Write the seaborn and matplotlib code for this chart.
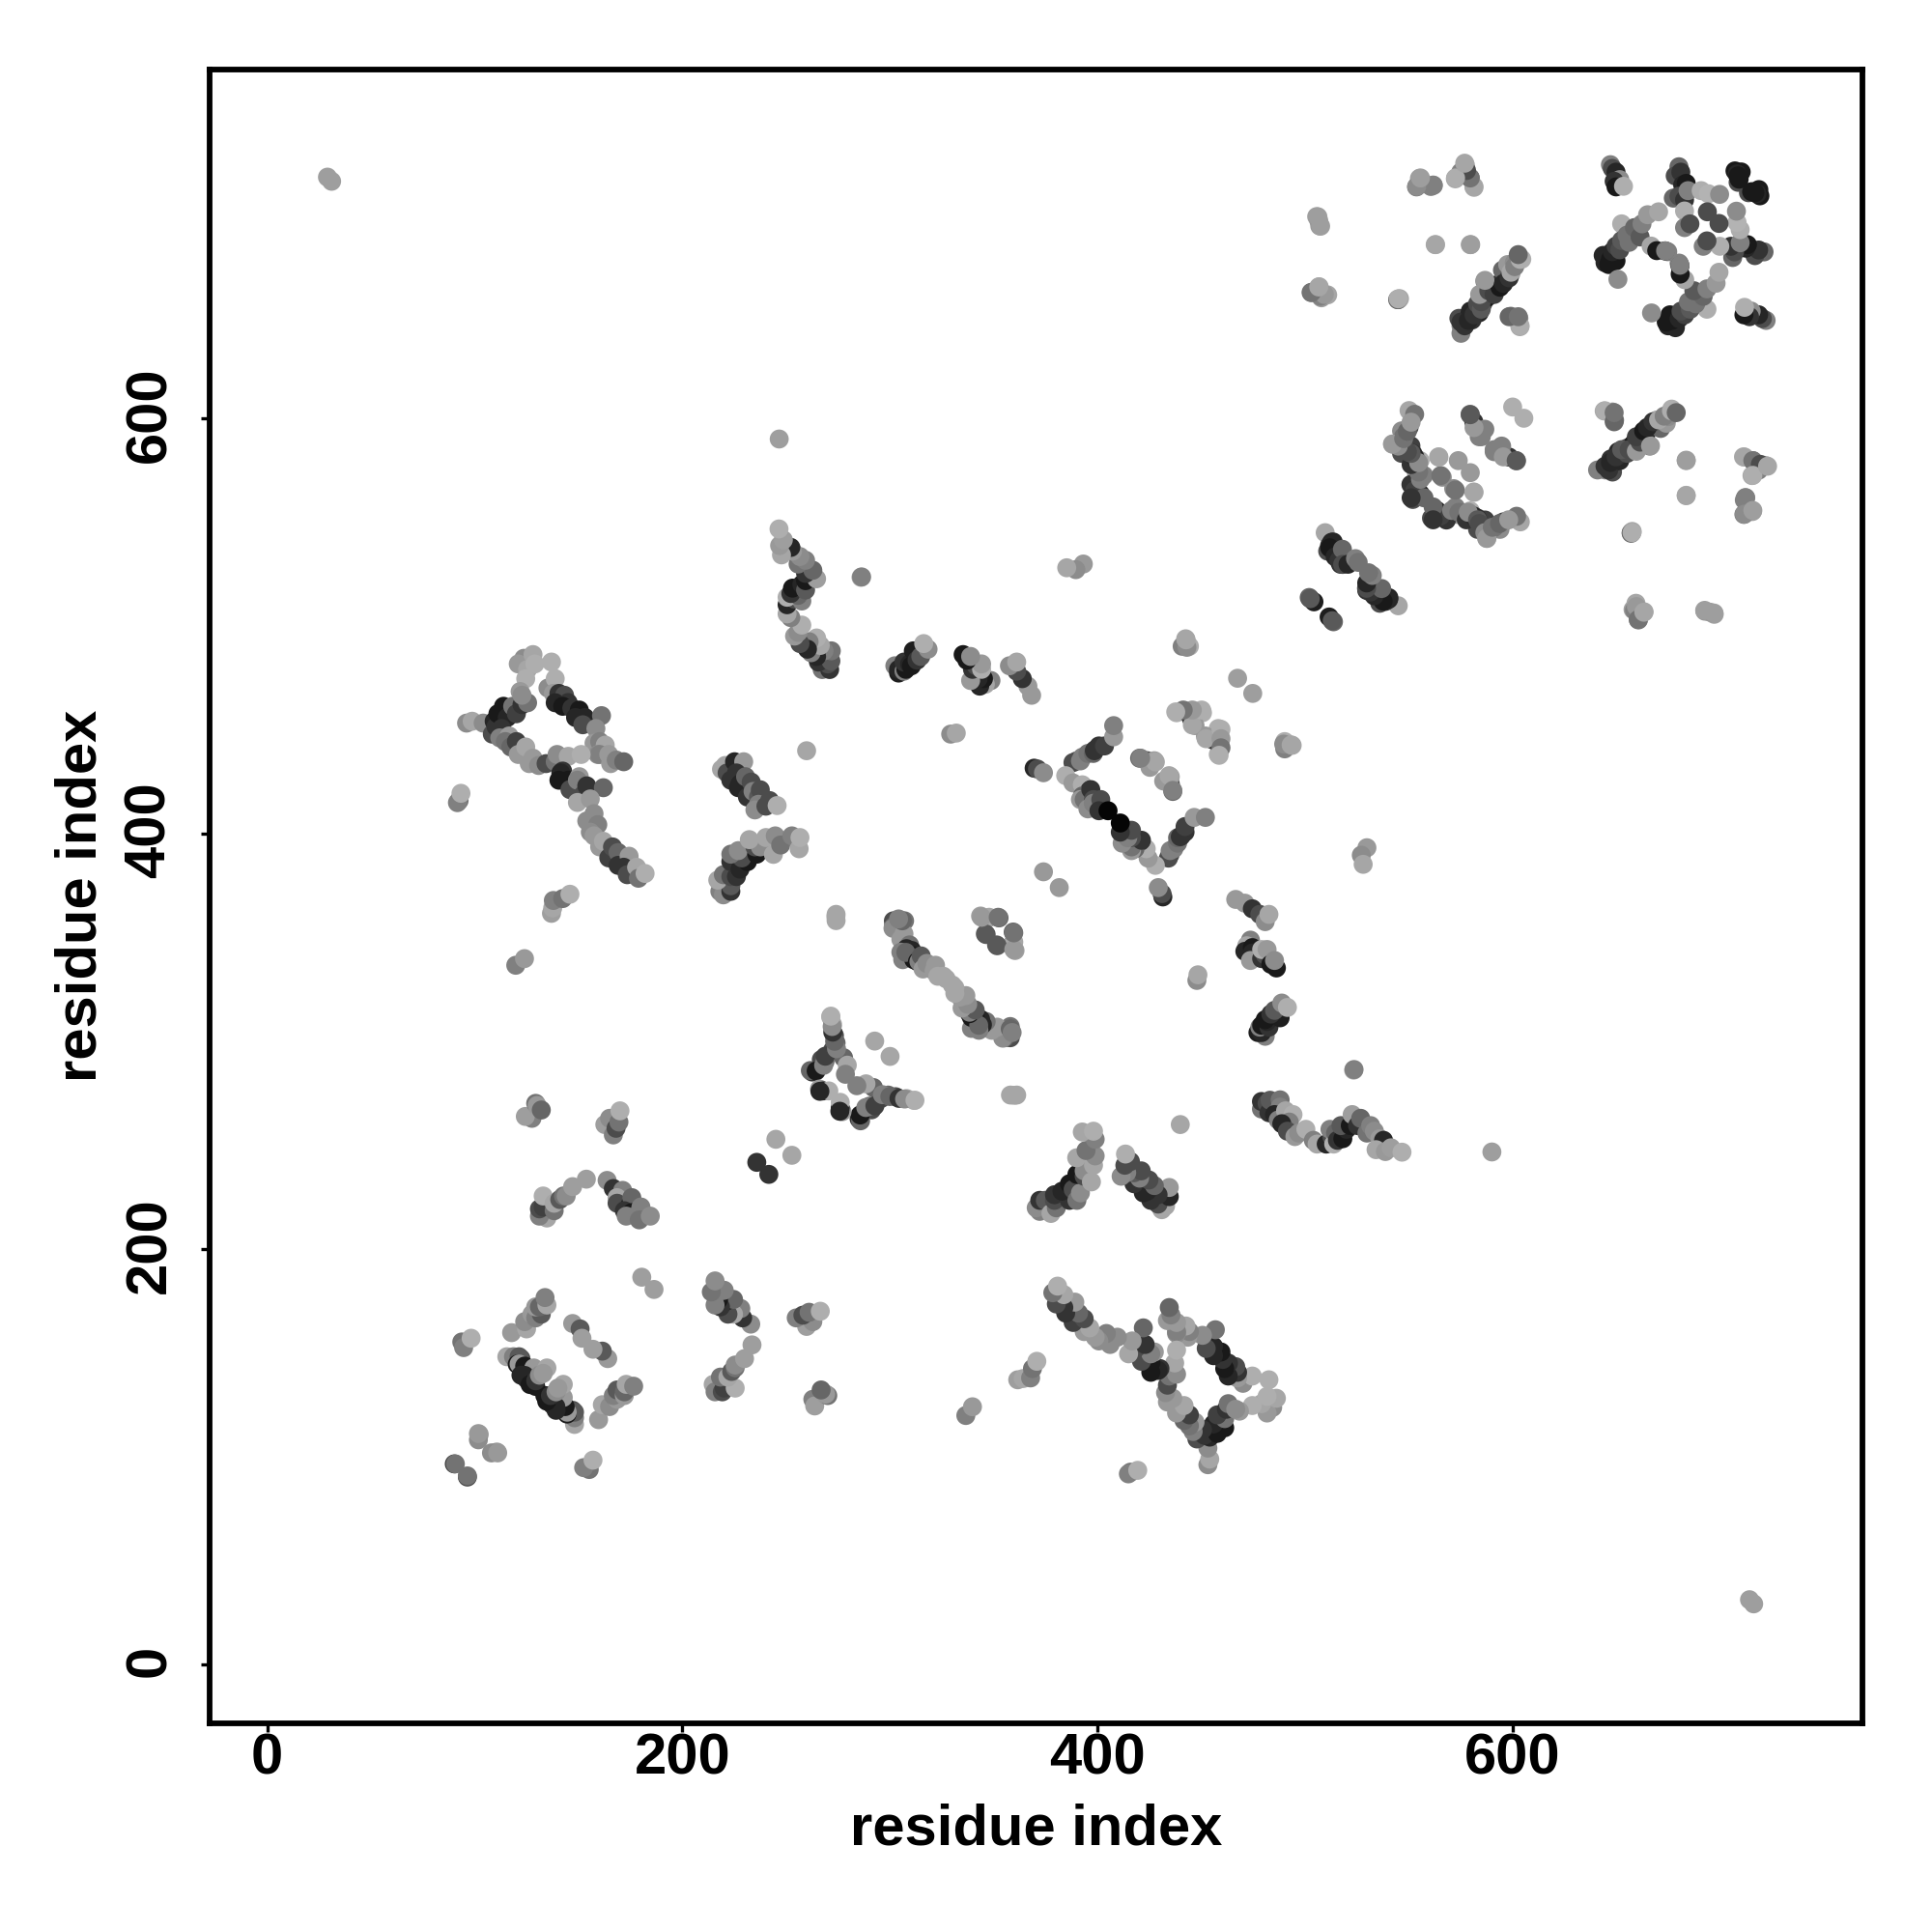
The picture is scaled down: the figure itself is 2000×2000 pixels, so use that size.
import matplotlib
matplotlib.use("Agg")
import matplotlib.pyplot as plt
from matplotlib.transforms import ScaledTranslation
import seaborn as sns
import pandas as pd

# contacts (i, j, grey level); the map is symmetric so each is shown at (i,j) and (j,i)
far_corner = [(29,716,.62),(31,714,.62)]
top_a = [(505.5,697,.62),(506.5,695,.6),(507,692.5,.58)]
top_b = [(502.8,660.5,.45),(506.7,663.2,.65),(507.8,657.9,.62),(510.8,659.3,.65)]
top_c = [(544.8,657,.4),(545.4,657.5,.65)]
top_d = [(562.8,683.5,.68),(579.7,683.5,.62)]
top_e = [(555,715.4,.62),(553.6,711.3,.45),(560.5,711.5,.5),(561.6,712.2,.5),(572.3,715.2,.65),
         (577.2,721.6,.68),(574.9,718.4,.5),(579.4,715.7,.4),(581.2,711.6,.68)]
strand_f = [(575,644.5,.55),(574,648,.3),(576.7,645.4,.2),(577.6,646.3,.15),(580.3,647.2,.2),(579,649,.15),
            (581.2,651.6,.25),(583.8,650.7,.15),(583,653.4,.35),(585.6,655.2,.3),(584.7,659.6,.5),
            (587.4,657.9,.1),(588.3,661.4,.2),(586.5,665.9,.5),(590.1,659.6,.15),(591.8,664,.15),
            (592.7,663.2,.1),(595.4,665.9,.2),(595,671.2,.4),(597.5,673.9,.6),(599,669.4,.6),
            (600.7,674.8,.55),(602.9,677.4,.45),(604.3,676.5,.68)]
top_g = [(599,649,.45),(602.9,648,.55),(603.4,644,.65)]
block_h = [(647,722,.5),(647.9,720.2,.3),(649.7,718.4,.15),(651.5,714.8,.55),(648.8,714,.2),
           (649.7,711.3,.1),(653.3,711.6,.68)]
block_i = [(680,721,.4),(678.2,716.6,.3),(680.9,718.4,.2),(681.8,712.2,.15),(683.5,713,.1),(677.3,705.9,.4),
           (680,706.8,.3),(682.7,705,.2),(684.4,709.5,.5),(690.7,709.5,.68),(694.2,708,.7),
           (699.6,707.7,.55),(708.5,713.5,.3),(707,719,.1),(710,718.5,.1),(708,717.6,.15),(709,715,.1),(708.5,716.6,.1)]
block_j = [(643.5,678.3,.15),(644.4,674.8,.15),(646.2,673.9,.1),(647,676.5,.1),(649.7,675.7,.1),
           (647.9,680.1,.15),(649.7,682.8,.25),(651.5,681,.3),(652.4,693.5,.68),(652.4,685.5,.35),
           (656,684.6,.45),(655,688.1,.45),(658.6,691.7,.4),(661.3,687.2,.35),(662.2,693.5,.5),
           (664.9,697.9,.6),(670.2,699.3,.65),(650.6,666.8,.55)]
block_k = [(682.7,699.7,.68),(693.7,699.3,.3),(682.7,691.7,.5),(685.3,693.5,.3),(666.6,682.8,.65),
           (669.3,680.6,.1),(674.6,680.1,.5),(673.3,680.5,.15),(680.5,673.6,.5)]
loop_m = [(550,603.6,.65),(552.7,601.8,.45),(550,595.5,.25),(546.4,593.8,.55),(547.3,591,.45),(542,587.5,.65),
          (546.4,588.4,.4),(549.1,584.8,.3),(550.9,586.6,.25),(546.4,583,.3),(551.8,583,.2),(555.3,579.5,.68),
          (564.2,581.3,.68),(573.7,579.5,.6),(553.6,573.3,.6),(554.4,576,.6),(557.1,572.4,.5),(566,571.5,.55),
          (565.3,572.3,.45),(550.9,568,.2),(552.7,565.3,.2),(551.8,560.8,.3),(555.3,562.6,.2),(555.5,563.4,.15),
          (552.8,565.1,.25),(557.2,561.6,.4),(551,561.6,.2),(555.5,570.5,.5),(554.6,574,.45),(551,577.6,.2),
          (552.8,581.2,.15),(554.6,578.5,.55),(551,583,.35),(549.2,583.8,.3),(544.8,586.5,.55),(542.1,587.4,.6),
          (547.4,590.1,.45),(549.2,593.6,.4),(551,598,.6),(564.4,581.2,.65)]
loop_n = [(579.4,601.8,.45),(581.2,598.2,.2),(583.8,591,.5),(586.5,594.6,.5),(584.8,591,.5),
          (581.3,595.4,.6),(579.5,601.6,.35),(599.9,605.3,.68)]
strand_o = [(575,640.8,.5),(575,646.2,.2),(576.8,644.4,.2),(578.6,647,.15),(579.5,651.5,.15),(581.3,649.7,.2),
            (583,655,.3),(584.8,652.4,.35),(584.8,656,.3),(584,659.5,.6),(588.4,661.3,.3),(591,659.5,.25),
            (593.8,663,.1),(586.6,666.3,.6),(595.5,664.8,.15),(598.2,667.5,.2),(599.1,670.2,.65),
            (600.9,672.9,.5),(603.5,676.4,.68),(602.6,678.7,.4)]
top_p = [(603.5,644.4,.68),(598.2,648.8,.4),(602.6,648.8,.45)]
top_q = [(579.5,683.5,.62),(562.6,683.5,.65)]
top_r = [(581.3,711.1,.65),(579.5,715.6,.45),(577.7,719.2,.3),(572.4,715.6,.68),(576.8,722.7,.65),
         (561.7,712,.5),(553.7,711.5,.55),(555.5,715.6,.62)]
top_s = [(544.5,657,.4),(544.8,657.4,.68)]
top_t = [(507.4,658.6,.5),(509.2,659.5,.6),(503,660.4,.45),(506.5,663.1,.65),(507.4,692.4,.62),(506.1,696.9,.62)]
strand_u = [(509.6,544.8,.65),(510.8,535.9,.3),(511.7,538.6,.2),(513.5,540.3,.15),(512.7,540.2,.15),(511.8,537.5,.1),
            (514.4,533.2,.15),(516.2,531.4,.2),(517,529.6,.2),(517.9,536.8,.4),(518,529.5,.3),(520.6,529.6,.15),
            (524.2,532.3,.5),(525.5,530.5,.45)]
top_v = [(501.9,513.6,.4),(504.2,511.5,.12),(502.4,513,.35)]
top_l = [(467.4,474.7,.62)]
loop_a = [(123.6,484.3,.55),(120.9,481.6,.6),(128,486.1,.65),(125.4,479,.65),(128.9,481.6,.68),(136.9,482.5,.68),
          (124.5,474.5,.68),(135.2,470,.55),(138.7,474.5,.68),(137.8,467.4,.6),(140.5,467.4,.2),(143.2,466.5,.3),
          (138.7,462.9,.15),(144.9,463,.2),(142.3,461.2,.1),(146.7,460.3,.2),(150.3,459.4,.1),(148.5,455.8,.15),
          (153,455.8,.15),(152,452.3,.3),(161,456.7,.45),(158.3,450.5,.55),(157.4,443.4,.6),(160.1,444.2,.5),
          (162.8,442.5,.65),(159.2,438,.55),(160.1,438,.5),(164.5,438,.6),(165.4,433.6,.6),(168.1,435.3,.5),(171.7,434.5,.4),
          (96,453.1,.55),(98.7,454,.65),(104,453.1,.55),(108.4,447.8,.3),(109.3,454,.15),(110.2,451.4,.2),(111.1,457.6,.1),
          (113.8,461.2,.1),(115.6,455.8,.15),(118.2,461.2,.45),(120,457.6,.25),(122.7,462,.2),(125.4,462.9,.45),
          (121.8,468.3,.6),(122.7,466.5,.55),(112.9,450.5,.2),(112,446,.5),
          (116.5,446.9,.6),(114.7,444.2,.45),(117.3,441.6,.4),(120,444.2,.25),(120.9,438,.6),(124.5,441.6,.65),
          (126.2,433.6,.6),(128,436.2,.6),(130.7,432.7,.55),(134.3,433.6,.3),(138.7,434.5,.45),(139.6,438,.55),
          (145,437.1,.65),(151.2,438,.68),(142.3,430,.2),(141.4,429.1,.15),(140.5,425.6,.1),
          (145,425.6,.1),(145.8,421.1,.3),(150.3,427.3,.6),(149.4,425.6,.5),(152,418.4,.3),(149.4,414.9,.65),
          (153.9,422.9,.2),(161.9,422,.4),(155.6,416.6,.6),(153.9,406,.55),(157.4,409.5,.55),(159.2,404.2,.5),
          (155.6,400.6,.55),(157.4,398.8,.6),(160.1,393.5,.6),(161.9,396.2,.65),(164.5,388.2,.25),(166.3,393.5,.3),
          (169,390.8,.4),(169,384.6,.2),(174.3,389,.6),(171.7,383.7,.2),(173.4,380.1,.3),(177.9,383.7,.65),
          (178.8,378.4,.45),(182,380.7,.68)]
side_b = [(92.4,415.8,.45),(91.6,414.8,.5),(93.3,419.3,.68)]
side_c = [(136.9,361.5,.62),(137.5,364.1,.65),(137.8,367.7,.5),(142.3,368.6,.45),(145.8,370.7,.68)]
side_d = [(119.7,336.5,.5),(123.9,339.7,.6)]
strand_e = [(218.8,430.9,.65),(220.6,432.7,.65),(221.5,429.1,.3),(225.1,434.5,.15),(229.5,434.5,.6),(226,429.1,.2),
            (223.3,425.6,.2),(226.9,422,.15),(227.7,423.8,.15),(230.4,427.3,.4),(233.1,424.7,.3),(231.3,417.5,.2),
            (234,420.2,.5),(236.6,417.5,.35),(237.5,421,.3),(236.6,414,.5),(234.9,411.3,.55),(240.2,413.1,.3),
            (242,415.8,.3),(245.6,413.4,.68)]
strand_f2 = [(218,372.1,.5),(219.7,370.4,.55),(223.3,372.1,.2),(223.3,374.8,.35),(217,377.5,.65),(219.7,380.1,.45),
             (223.3,379.2,.3),(226,379.2,.2),(223.3,386.4,.2),(227.7,382.8,.15),(231.3,386.4,.1),(228.6,388.2,.3),
             (223.3,390,.45),(226.9,391.7,.55),(235.8,390,.1),(234.9,393.5,.3),(237.5,393.5,.55),
             (232.2,397,.65),(240.2,398,.65),(243.8,389.9,.65),(244.7,398.8,.55),(247.3,394.4,.45),
             (252.7,398.8,.5),(256.2,392.6,.65),(256.6,398,.68)]
single_g = [(259.8,439.8,.65),(329.2,447.8,.55),(331.9,448.3,.65)]
strand_h = [(267.3,478.9,.45),(270.9,478.9,.2),(270,481.6,.3),(265.5,482.5,.2),(271.5,483,.35),(271.7,487.9,.45),
            (268.2,487.9,.5),(264.6,485.2,.15),(262,487,.5),(266.4,490.5,.65),(264.6,494.1,.68),(261,492.3,.5),
            (260.2,488.7,.15),(256.6,491.4,.3),(254,495,.6),(255.7,496.8,.55),(257.5,500.3,.68),
            (252.2,503.9,.5),(250.4,505.7,.65),(250.4,510.1,.15),(254,512.8,.3),(257.5,511.9,.5),(250.4,513.7,.68),
            (255.7,514.6,.4),(252.2,515.5,.2),(253,518.1,.1),(257.5,519.9,.15),(259.3,517.2,.35),(259.3,521.7,.1),
            (264.6,522.6,.62),(259.3,525.2,.2),(262.8,526.7,.4),(255.7,529.7,.45),(259.3,531.5,.5),(256.6,533.3,.55),
            (253,535.9,.6),(252.2,537.7,.15),(247.7,534.1,.65),(246.8,538.6,.6),(248.6,541.3,.62),(246.5,546.6,.68)]
strand_u2 = [(368.2,466.5,.6),(366.4,470.9,.6),(363.7,474.5,.2),(361,478.1,.3),(357.5,480.7,.55),
             (361,482.5,.65),(348.6,473.6,.5),(345.9,471.8,.65),(343.2,470.9,.15),(345,474.5,.1),(342.4,474.5,.15),
             (338.8,473.6,.6),(339.7,479,.2),(341.5,480.7,.3),(344.1,479,.68),(344.1,481.6,.6),(337,483.4,.1),
             (335.2,486.1,.1),(338.8,485.2,.55)]
strand_v = [(302.3,480.7,.5),(304.1,477.2,.12),(304.1,479,.15),(306.7,478.1,.5),(307.6,479,.1),(306.7,482.5,.2),
            (309.4,481.6,.15),(310.3,480.7,.1),(311.2,487.9,.12),(313,483.4,.2),(314.8,485.2,.35),(318.3,488.7,.55),(316.2,491.4,.68)]
single_w = [(286,523.3,.65),(286.3,523.5,.5)]
strand_y = [(307,357.9,.45),(301.6,357.9,.3),(301.6,355.2,.4),(301.4,354.3,.55),(305.2,349,.6),
            (306.7,351.6,.6),(305.9,357.9,.4),(304.1,358.8,.5),(309.4,346.3,.45),(310.5,343.6,.15),(307.9,344.5,.15),
            (305.2,342.8,.5),(306.1,339.2,.5),(311.2,341,.1),(311.4,339.2,.1),(307.6,342.7,.4),(313.2,338.3,.1),
            (313.9,338.3,.5),(315,341,.35),(315.9,334.7,.6),(317.7,337.4,.55),(321.2,333.8,.6),(321.9,336.5,.6),
            (323,331.2,.65),(325.7,331.2,.65),(327,330,.65)]
single_y = [(274,361,.65),(274,358,.65),(273.9,359.8,.65)]
cluster_z = [(343.6,360.2,.62),(347.2,359.3,.6),(347.7,359.6,.65),(352.5,359.3,.4),(346.3,351.3,.35),
             (345.9,351.6,.35),(344.1,359.6,.6),(352.1,359.6,.45)]
loop_z2 = [(271.4,311.6,.68),(272.3,308,.65),(273.2,302.7,.3),(274,299.1,.4),(272.3,295.6,.3),
           (277.6,292,.4),(279.4,288.4,.65),(278.5,284,.5),(266.9,291.1,.3),(268.7,290.2,.45),
           (262.5,285.1,.2),(261.6,285.8,.4),(264.4,285.6,.1),(266,276.9,.6),(267.8,276,.15),
           (270.5,276,.68),(268,288.3,.5),(268.8,292.7,.25),(266.2,275.8,.15),(274.2,296.3,.5),
           (273.3,299.9,.4),(272.4,304.3,.2),(272.1,307,.55),(271.5,312,.68)]
pairs = [(292.6,300,.65),(245,252.7,.65),(235.8,241.6,.2),(373.9,381.5,.6),(180.4,186.3,.62)]
q_cluster = [(420.2,436.2,.4),(423.8,435,.3),(427.3,435,.62),(431.8,425.2,.6),(434.4,427.8,.65),(436.2,420.7,.5)]
m_cluster = [(438,458.1,.68),(441.6,459,.45),(445.1,459,.55),(445.1,455.4,.2),(450.5,458.1,.68),
             (446.9,451.9,.6),(452.2,445.6,.65),(459.4,450.1,.68),(459.4,445.6,.6),(459.4,441.2,.45),
             (458.5,437.6,.68)]
k_cluster = [(440.7,490.1,.5),(442.4,493.7,.65),(444.2,490.1,.68)]
n_cluster = [(489.6,443,.55),(493.2,442.6,.65)]
o_cluster = [(388.1,434.1,.3),(389.9,434.9,.3),(391.7,434.9,.5),(392.6,436.7,.5),(395.3,438.5,.45),(397.9,438.5,.4),
             (398.8,440.3,.2),(398.4,439.8,.2),(400.6,442.1,.2),(403.3,442.1,.25),(407.7,446.5,.6),(407.7,451.9,.5)]
p_cluster = [(369.4,431.4,.15),(371,431,.3),(373.9,429.2,.55)]
r_strand = [(384.6,427.8,.68),(388.1,424.3,.6),(392.6,423.4,.68),(396.2,420.7,.2),(392.6,418,.4),(391.7,416.3,.6),
            (393.5,416.3,.45),(396.7,421.1,.2),(398,416.3,.3),(395.3,411.8,.55),(397.9,414.5,.5),(401.5,416.3,.3),
            (400.6,410.9,.2),(405,410.9,.02)]
far_right = [(393.1,529.7,.6),(389.5,527,.55),(385.1,527.9,.65)]
side_pairs = [(246.6,589.9,.62)]
low_a = [(127.5,262.8,.5),(124.3,263.7,.62),(129.3,270,.45),(130,269,.6),(132,266.8,.4)]
low_b = [(162.6,259.8,.62),(166.7,254.8,.5),(164.9,262.8,.55),(168,258,.3),(169.4,261,.45),(169.9,266.4,.68)]
low_c = [(134.7,214.8,.65),(131.1,215.7,.5),(131.1,219.2,.3),(132.9,220.1,.25),(138.2,218.3,.45),(132.9,225.4,.68),
         (138.2,221.9,.65),(140.9,223.7,.35),(142.7,225.4,.45),(144,225.4,.55),(147.1,229.9,.62),(153.7,233.5,.62)]
low_d = [(163.7,232.9,.55),(166.7,229,.2),(172.9,225.4,.4),(171.2,228.1,.5),(168.5,224.6,.65),(168.5,221.9,.3),
         (174.7,221,.15),(175.6,224.6,.4),(172,218.3,.2),(175.6,217.4,.1),(178.3,216.5,.4),(180,220.1,.5),
         (172.9,215.7,.5),(179.2,213.9,.45),(184.5,215.7,.55)]
low_e = [(93.7,155.1,.45),(94.6,152.4,.5),(98.2,156.9,.68)]
low_f = [(117.7,159.6,.6),(124.9,161.4,.65),(124,164.9,.55),(127.5,168.5,.6),(129.3,166.7,.5),(132,168.5,.35),
         (129.3,172,.6),(131.1,172,.4),(134.7,172.9,.65),(133.8,176.5,.5)]
low_g = [(147.1,164,.6),(150.7,161.4,.35),(151.6,156.9,.62)]
low_h = [(115.4,148,.65),(118.6,148,.5),(122.2,147.1,.3),(121.3,148,.35),(120.4,144.4,.1),(121.3,144.5,.6),(124,143.5,.1),
         (128.4,142.6,.6),(134.7,142.6,.65),(122.2,139.1,.15),(124,139,.15),(124.9,137.3,.15),(126.6,134.6,.1),
         (129.3,133.7,.1),(129.3,136.4,.2),(131.1,139.1,.55),(132.9,140,.6)]
low_i = [(102.1,110.6,.6),(101.7,108,.55),(101.7,111,.6)]
low_j = [(90.1,96.4,.2),(90.6,96.4,.45)]

clusters = [far_corner, top_a, top_b, top_c, top_d, top_e, strand_f, top_g, block_h, block_i,
            block_j, block_k, loop_m, loop_n, strand_o, top_p, top_q, top_r, top_s, top_t,
            strand_u, top_v, top_l, loop_a, side_b, side_c, side_d, strand_e, strand_f2,
            single_g, strand_h, strand_u2, strand_v, single_w, strand_y, single_y,
            cluster_z, loop_z2, pairs, q_cluster, m_cluster, k_cluster, n_cluster, o_cluster,
            p_cluster, r_strand, far_right, side_pairs, low_a, low_b, low_c, low_d, low_e,
            low_f, low_g, low_h, low_i, low_j]

x_ticks = [0, 200, 400, 600]
y_ticks = [0, 200, 400, 600]
axis_title = "residue index"

rows = []
for c in clusters:
    for i, j, g in c:
        rows.append((i, j, g))
        rows.append((j, i, g))
df = pd.DataFrame(rows, columns=["i", "j", "grey"])

sns.set_theme(style="white")
plt.rcParams["font.family"] = ["Liberation Sans", "DejaVu Sans"]
fig = plt.figure(figsize=(10, 10), dpi=200)
ax = fig.add_axes([216.5/2000, 1-1783.5/2000, (1928-216.5)/2000, (1783.5-72)/2000])
sns.scatterplot(data=df, x="i", y="j", hue="grey", palette="gray", hue_norm=(0, 1),
                s=50, linewidth=0, legend=False, ax=ax, zorder=3)
ax.set_xlim(-28, 768.4)
ax.set_ylim(-28.3, 767.8)
for s in ax.spines.values():
    s.set_linewidth(2.1)
    s.set_color("black")
ax.set_xticks(x_ticks)
ax.set_yticks(y_ticks)
ax.tick_params(axis="x", length=3.1, width=1.2, color="black", bottom=True,
               labelsize=21.5, labelcolor="black", pad=0.5)
ax.tick_params(axis="y", length=3.1, width=1.2, color="black", left=True,
               labelsize=21.5, labelcolor="black", pad=9)
for t in ax.get_xticklabels():
    t.set_fontweight("bold")
nudge = ScaledTranslation(0, 3.5/200, fig.dpi_scale_trans)
for t in ax.get_yticklabels():
    t.set_fontweight("bold")
    t.set_rotation(90)
    t.set_va("center")
    t.set_transform(t.get_transform() + nudge)
ax.set_xlabel(axis_title, fontsize=21.5, fontweight="bold", color="black", labelpad=6.5)
ax.set_ylabel(axis_title, fontsize=21.5, fontweight="bold", color="black", labelpad=6)
fig.savefig("out.png", dpi=200, facecolor="white")
